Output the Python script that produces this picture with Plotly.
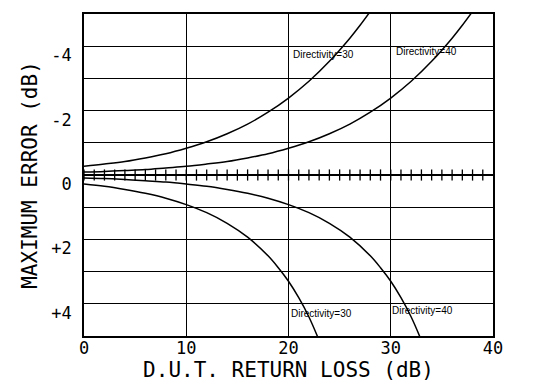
import plotly.graph_objects as go

# Return loss (dB) sample points and maximum error (dB)
d30_neg_x = [0, 2, 4, 6, 8, 10, 12, 14, 16, 18, 20, 22, 24, 26, 27, 28]
d30_neg_y = [-0.27, -0.34, -0.42, -0.53, -0.66, -0.83, -1.03, -1.28, -1.58, -1.95,
             -2.39, -2.91, -3.53, -4.25, -4.65, -5.08]
d30_pos_x = [0, 2, 4, 6, 8, 10, 12, 14, 16, 18, 19, 20, 21, 22, 23]
d30_pos_y = [0.28, 0.35, 0.45, 0.57, 0.72, 0.92, 1.17, 1.50, 1.93, 2.51, 2.88,
             3.30, 3.81, 4.41, 5.14]
d40_neg_x = [0, 2, 4, 6, 8, 10, 12, 14, 16, 18, 20, 22, 24, 26, 28, 30, 32, 34, 36, 37, 38]
d40_neg_y = [-0.09, -0.11, -0.14, -0.17, -0.22, -0.27, -0.34, -0.42, -0.53, -0.66,
             -0.83, -1.03, -1.28, -1.58, -1.95, -2.39, -2.91, -3.53, -4.25, -4.65, -5.08]
d40_pos_x = [0, 2, 4, 6, 8, 10, 12, 14, 16, 18, 20, 22, 24, 26, 28, 29, 30, 31, 32, 33]
d40_pos_y = [0.09, 0.11, 0.14, 0.18, 0.22, 0.28, 0.35, 0.45, 0.57, 0.72, 0.92,
             1.17, 1.50, 1.93, 2.51, 2.88, 3.30, 3.81, 4.41, 5.14]

# tick marks along the zero line
zero_ticks_x = [0, 1, 2, 3, 4, 5, 6, 7, 8, 9, 10, 11, 12, 13, 14, 15, 16, 17, 18, 19,
                20, 21, 22, 23, 24, 25, 26, 27, 28, 29, 30, 31, 32, 33, 34, 35, 36, 37, 38, 39]
zero_ticks_y = [0] * len(zero_ticks_x)

x_tick_vals = [0, 10, 20, 30, 40]
x_tick_text = ["0", "10", "20", "30", "40"]
y_tick_pos = [-3.72, -1.72, 0.28, 2.28, 4.28]
y_tick_text = ["-4", "-2", "0", "+2", "+4"]

labels = [
    ("Directivity=30", 23.4, -3.75),
    ("Directivity=40", 33.5, -3.85),
    ("Directivity=30", 23.2, 4.3),
    ("Directivity=40", 33.1, 4.2),
]

fig = go.Figure()
for xs, ys in [(d30_neg_x, d30_neg_y), (d30_pos_x, d30_pos_y),
               (d40_neg_x, d40_neg_y), (d40_pos_x, d40_pos_y)]:
    fig.add_trace(go.Scatter(x=xs, y=ys, mode="lines",
                             line=dict(color="black", width=1.5, shape="spline"),
                             showlegend=False, hoverinfo="skip"))

fig.add_trace(go.Scatter(x=[0, 40], y=[0, 0], mode="lines", line=dict(color="black", width=1.8),
                         showlegend=False, hoverinfo="skip"))
fig.add_trace(go.Scatter(x=zero_ticks_x, y=zero_ticks_y, mode="markers",
                         marker=dict(symbol="line-ns", size=8, line=dict(color="black", width=1.3)),
                         showlegend=False, hoverinfo="skip"))

for txt, x, y in labels:
    fig.add_annotation(x=x, y=y, text=txt, showarrow=False,
                       font=dict(family="Liberation Sans", size=10, color="black"))

mono = "DejaVu Sans Mono"
fig.update_layout(
    width=534, height=385,
    margin=dict(l=84, r=41, t=14, b=49),
    paper_bgcolor="white", plot_bgcolor="white",
    showlegend=False,
)
fig.update_xaxes(
    range=[0, 40], tickvals=x_tick_vals, ticktext=x_tick_text,
    showgrid=True, gridcolor="black", gridwidth=1.3,
    showline=True, mirror=True, linecolor="black", linewidth=1.6,
    zeroline=False, ticks="", automargin=False,
    tickfont=dict(family=mono, size=17, color="black"),
    ticklabelstandoff=-4,
    title=dict(text="D.U.T. RETURN LOSS (dB)", font=dict(family=mono, size=21, color="black"), standoff=0),
)
fig.update_yaxes(
    range=[5, -5], tickvals=y_tick_pos, ticktext=y_tick_text,
    showgrid=False, zeroline=False, ticks="", automargin=False,
    minor=dict(dtick=1, tick0=0, showgrid=True, gridcolor="black", gridwidth=1.3, ticks=""),
    showline=True, mirror=True, linecolor="black", linewidth=1.6,
    tickfont=dict(family=mono, size=17, color="black"),
    ticklabelstandoff=7,
    title=dict(text="MAXIMUM ERROR (dB)", font=dict(family=mono, size=21, color="black"), standoff=8),
)

fig.write_html("out.html", config={"displayModeBar": False},
               post_script="document.body.style.margin='0';document.body.style.padding='0';")
